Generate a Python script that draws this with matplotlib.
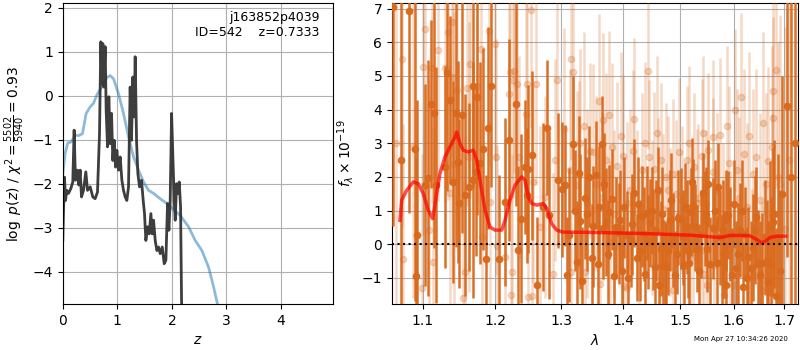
import numpy as np
import matplotlib
matplotlib.use('Agg')
import matplotlib.pyplot as plt
from matplotlib.ticker import NullLocator, NullFormatter, FixedLocator, FixedFormatter

# ---- left panel: redshift probability ----
pz_z = [0.000, 0.012, 0.031, 0.049, 0.073, 0.104, 0.147, 0.183, 0.208, 0.232,
        0.269, 0.294, 0.318, 0.343, 0.379, 0.422, 0.453, 0.502, 0.550, 0.593,
        0.636, 0.673, 0.697, 0.716, 0.734, 0.752, 0.777, 0.795, 0.820, 0.844,
        0.869, 0.893, 0.917, 0.942, 0.966, 0.991, 1.021, 1.052, 1.083, 1.113,
        1.144, 1.174, 1.205, 1.235, 1.260, 1.284, 1.309, 1.327, 1.352, 1.376,
        1.407, 1.443, 1.474, 1.498, 1.523, 1.554, 1.584, 1.615, 1.639, 1.664,
        1.694, 1.725, 1.755, 1.786, 1.823, 1.859, 1.890, 1.920, 1.945, 1.969,
        1.994, 2.018, 2.043, 2.061, 2.086, 2.110, 2.135, 2.159, 2.177, 2.196]
pz_logp = [-3.29, -2.68, -1.85, -2.38, -2.15, -2.22, -2.11, -1.96, -0.78, -1.92,
           -1.69, -2.03, -1.69, -2.30, -2.15, -1.73, -2.15, -2.07, -2.30, -2.34,
           -2.19, -0.86, 1.23, 0.28, 1.19, 0.20, 1.12, -0.33, -1.16, -0.02,
           -1.09, -0.40, -1.47, -1.01, -1.62, -1.24, -1.69, -1.39, -1.92, -2.15,
           -2.30, -2.38, -2.07, 0.20, -1.01, 0.43, -0.48, 0.89, -1.01, -1.77,
           -2.07, -1.92, -2.38, -2.68, -3.29, -2.98, -3.14, -2.68, -3.14, -2.83,
           -3.29, -3.52, -3.44, -3.59, -3.44, -3.82, -3.74, -2.45, -3.06, -2.38,
           -0.40, -1.39, -2.38, -2.83, -2.00, -2.22, -1.96, -2.53, -4.65, -5.41]

prior_z = [0.000, 0.043, 0.092, 0.153, 0.226, 0.300, 0.361, 0.428, 0.502, 0.563,
           0.624, 0.716, 0.807, 0.869, 0.930, 1.021, 1.113, 1.205, 1.297, 1.388,
           1.480, 1.572, 1.664, 1.786, 1.908, 2.031, 2.153, 2.306, 2.428, 2.550,
           2.673, 2.765, 2.838, 2.887]
prior_logp = [-1.77, -1.31, -1.07, -1.05, -0.90, -0.90, -0.86, -0.40, -0.25, -0.17,
              0.02, 0.21, 0.42, 0.46, 0.39, 0.05, -0.40, -0.93, -1.39, -1.69,
              -1.96, -2.15, -2.22, -2.34, -2.45, -2.59, -2.72, -2.98, -3.29, -3.52,
              -3.90, -4.35, -4.75, -5.11]

# ---- right panel: spectrum (dark points) ----
dark_wave = [1.0614, 1.0716, 1.0824, 1.0899, 1.0910, 1.0924, 1.1030, 1.1074, 1.1110, 1.1154,
             1.1176, 1.1299, 1.1330, 1.1367, 1.1413, 1.1450, 1.1481, 1.1495, 1.1528, 1.1574,
             1.1634, 1.1683, 1.1692, 1.1725, 1.1748, 1.1786, 1.1824, 1.1876, 1.1904, 1.1947,
             1.2063, 1.2146, 1.2204, 1.2307, 1.2341, 1.2382, 1.2442, 1.2467, 1.2492, 1.2543,
             1.2619, 1.2719, 1.2771, 1.2811, 1.2950, 1.3004, 1.3118, 1.3177, 1.3241, 1.3293,
             1.3373, 1.3438, 1.3482, 1.3500, 1.3552, 1.3606, 1.3645, 1.3672, 1.3716, 1.3771,
             1.3810, 1.3849, 1.3949, 1.4062, 1.4130, 1.4191, 1.4232, 1.4318, 1.4375, 1.4415,
             1.4462, 1.4520, 1.4549, 1.4608, 1.4650, 1.4726, 1.4873, 1.4945, 1.5007, 1.5066,
             1.5114, 1.5157, 1.5206, 1.5235, 1.5309, 1.5408, 1.5451, 1.5494, 1.5606, 1.5701,
             1.5765, 1.5847, 1.5892, 1.5957, 1.6084, 1.6117, 1.6181, 1.6279, 1.6332, 1.6476,
             1.6543, 1.6675, 1.6709, 1.6763, 1.6830, 1.6876, 1.6960, 1.7062, 1.7140, 1.7230,
             1.3055, 1.3282, 1.3937, 1.4433, 1.4625, 1.4694, 1.4743, 1.4814, 1.4963, 1.5190,
             1.5469, 1.5512, 1.5670, 1.5796, 1.5855, 1.6410, 1.3080, 1.3210, 1.3330, 1.3400,
             1.3580, 1.3690, 1.3750, 1.3880, 1.3990, 1.4010, 1.4090, 1.4160, 1.4260, 1.4290,
             1.4350, 1.4490, 1.4570, 1.4680, 1.4780, 1.4840, 1.4910, 1.5040, 1.5090, 1.5140,
             1.5270, 1.5350, 1.5380, 1.5540, 1.5640, 1.5740, 1.5810, 1.5920, 1.6000, 1.6040,
             1.6150, 1.6220, 1.6250, 1.6380, 1.6440, 1.6510, 1.6600, 1.6640, 1.6740, 1.6800,
             1.6920]
dark_flux = [7.04, 2.51, 6.94, 2.82, -0.93, 0.27, 1.75, 1.97, 4.17, 3.90,
             1.75, 2.29, 5.08, 4.29, 1.85, 3.91, 2.44, 1.21, 3.83, 1.47,
             1.70, 1.90, 4.70, 2.15, 4.37, 2.41, 2.84, -0.45, 3.46, 4.69,
             -0.45, 1.26, 3.09, 4.15, -0.18, 0.76, 2.29, 1.45, 2.24, 2.64,
             -1.20, 1.11, 3.46, 0.86, 1.90, 1.63, 0.27, 2.99, -0.53, 0.68,
             1.36, 2.00, -0.42, 0.53, 2.05, 1.11, 2.99, 0.47, 0.66, 0.96,
             1.33, -0.95, 0.71, 0.27, 0.12, 1.53, -0.40, 0.83, -0.87, 0.93,
             0.63, 0.14, -0.67, 1.60, -0.13, -0.62, 0.12, -0.28, 0.76, -0.62,
             0.51, -0.57, 1.85, 1.13, -0.13, 1.52, 0.76, -0.13, 0.47, 1.70,
             -0.52, 0.71, 0.86, -0.92, -0.28, 0.42, -1.27, -0.38, -0.72, -0.57,
             -0.57, -1.12, 0.47, 0.66, -1.53, 0.17, 1.50, 4.12, 2.00, 3.00,
             1.75, 2.12, 0.32, 0.07, -1.22, -0.65, -0.67, 0.71, 0.79, 0.96,
             0.89, 1.80, -0.55, 0.42, -1.22, 0.42, -0.90, 1.00, -1.10, 0.90,
             -0.60, 1.80, -0.30, 0.50, -0.80, 1.10, -1.00, 0.60, 1.20, -0.20,
             0.30, 1.00, 0.40, 0.90, -0.20, 1.30, -0.90, 0.20, 1.10, -0.20,
             0.50, -0.80, 0.30, -0.60, 1.00, 0.20, -0.30, 0.30, 1.20, -0.70,
             1.00, 0.30, -1.00, -0.10, 0.80, -0.90, 0.20, -0.50, -0.60, 0.90,
             -0.80]
dark_err = [6.5, 5.5, 6.0, 4.5, 3.5, 4.0, 3.0, 3.5, 2.5, 4.0,
            3.5, 3.0, 3.5, 2.5, 3.0, 4.0, 3.0, 2.5, 3.5, 3.0,
            2.5, 3.5, 3.0, 2.5, 3.5, 3.0, 3.0, 2.5, 3.0, 3.0,
            2.5, 2.5, 3.0, 3.0, 2.5, 2.5, 2.0, 2.0, 2.5, 2.5,
            2.0, 2.5, 2.0, 2.5, 2.0, 2.0, 2.0, 2.0, 1.8, 2.0,
            1.8, 1.5, 1.6, 1.8, 1.6, 1.8, 1.4, 1.5, 1.6, 1.4,
            1.5, 1.4, 1.5, 1.3, 1.4, 1.6, 1.3, 1.5, 1.2, 1.4,
            1.3, 1.5, 1.2, 1.3, 1.4, 1.3, 1.4, 1.2, 1.5, 1.3,
            1.4, 1.2, 1.3, 1.4, 1.3, 1.2, 1.4, 1.3, 1.5, 1.3,
            1.4, 1.5, 1.3, 1.4, 1.5, 1.4, 1.3, 1.5, 1.4, 1.6,
            1.5, 1.8, 2.0, 2.2, 2.0, 2.5, 3.5, 4.5, 8.0, 8.0,
            1.8, 1.7, 1.5, 1.4, 1.3, 1.4, 1.3, 1.5, 1.4, 1.3,
            1.4, 1.3, 1.4, 1.5, 1.3, 1.6, 1.7, 1.8, 1.6, 1.7,
            1.6, 1.5, 1.6, 1.5, 1.4, 1.5, 1.4, 1.5, 1.4, 1.5,
            1.4, 1.3, 1.5, 1.4, 1.3, 1.4, 1.3, 1.4, 1.3, 1.4,
            1.3, 1.4, 1.3, 1.4, 1.5, 1.4, 1.3, 1.4, 1.3, 1.4,
            1.5, 1.4, 1.5, 1.6, 1.5, 1.6, 1.7, 1.8, 2.0, 2.2,
            2.4]

# ---- right panel: spectrum (faint points) ----
light_wave = [1.0650, 1.0725, 1.0746, 1.0876, 1.0994, 1.1008, 1.1030, 1.1087, 1.1129, 1.1140,
              1.1209, 1.1299, 1.1346, 1.1367, 1.1390, 1.1413, 1.1425, 1.1459, 1.1542, 1.1574,
              1.1606, 1.1627, 1.1645, 1.1748, 1.1796, 1.1810, 1.1918, 1.1928, 1.2000, 1.2015,
              1.2025, 1.2146, 1.2209, 1.2219, 1.2229, 1.2244, 1.2258, 1.2278, 1.2317, 1.2356,
              1.2457, 1.2467, 1.2480, 1.2528, 1.2543, 1.2567, 1.2608, 1.2668, 1.2749, 1.2873,
              1.2900, 1.2926, 1.3040, 1.3134, 1.3145, 1.3150, 1.3187, 1.3250, 1.3282, 1.3362,
              1.3373, 1.3400, 1.3454, 1.3508, 1.3606, 1.3617, 1.3661, 1.3672, 1.3771, 1.3782,
              1.3810, 1.3893, 1.4004, 1.4020, 1.4062, 1.4075, 1.4118, 1.4166, 1.4191, 1.4277,
              1.4318, 1.4432, 1.4450, 1.4537, 1.4608, 1.4637, 1.4696, 1.4744, 1.4783, 1.4814,
              1.4862, 1.4873, 1.4982, 1.5025, 1.5049, 1.5114, 1.5175, 1.5224, 1.5298, 1.5327,
              1.5390, 1.5405, 1.5420, 1.5432, 1.5469, 1.5482, 1.5595, 1.5606, 1.5620, 1.5733,
              1.5796, 1.5815, 1.5911, 1.5924, 1.5988, 1.6018, 1.6104, 1.6130, 1.6195, 1.6247,
              1.6345, 1.6377, 1.6509, 1.6543, 1.6564, 1.6675, 1.6743, 1.6750, 1.6763, 1.6775,
              1.6830, 1.6876, 1.6911, 1.7006, 1.7100,
              1.3300, 1.3550, 1.3720, 1.3850, 1.3960, 1.4240, 1.4380, 1.4500, 1.4580, 1.4660,
              1.4920, 1.5150, 1.5250, 1.5500, 1.5680, 1.5860, 1.6060, 1.6290, 1.6440, 1.6620]
light_flux = [3.00, 5.51, -0.44, 2.89, -1.31, 5.26, 6.40, 0.42, 5.22, -0.52,
              5.78, 5.22, 6.30, 1.52, 6.60, 4.96, 2.39, 4.57, -1.61, -0.83,
              4.65, 2.59, 5.36, 4.69, 5.81, 0.22, 6.33, 1.26, 5.96, 2.59,
              -0.06, -0.38, 4.47, 5.11, -1.51, -0.82, 4.87, 5.13, 4.77, 2.59,
              3.88, 4.77, -1.56, 6.96, -1.54, 1.85, 4.77, 0.51, 1.40, -0.87,
              2.49, 4.87, 3.43, 2.20, -0.82, 5.51, 5.11, 1.75, 2.05, 3.50,
              -0.82, 1.21, 2.77, 2.74, 4.24, -1.17, 3.68, 1.40, 3.83, 0.07,
              2.89, 2.32, 2.62, -1.25, 1.23, -1.31, 1.62, 2.77, 3.73, -0.28,
              2.20, 5.14, 2.59, 2.23, 1.55, -1.22, 1.06, 2.00, 1.62, 0.66,
              2.10, -1.36, 2.74, 1.31, -0.67, 2.51, -0.33, -0.38, 1.21, 1.36,
              2.61, -0.18, 3.30, -0.89, 1.19, -1.22, 3.18, 2.15, -0.62, 3.23,
              0.81, -1.51, 2.41, -0.13, -1.22, 3.98, 1.37, 4.37, 2.69, 1.11,
              -0.87, 2.10, 1.31, -1.36, 3.61, 2.47, 2.89, 0.86, 4.54, 3.75,
              5.18, 2.00, 1.80, 0.44, 2.50,
              3.00, 1.80, 2.50, 0.90, 3.20, 1.00, 3.00, 0.80, 3.30, 2.50,
              1.50, 3.00, 2.30, 2.80, 1.60, 3.50, 2.20, 3.20, 2.60, 1.80]
light_err = [6.0, 5.0, 4.0, 4.5, 4.0, 5.0, 5.0, 4.5, 4.0, 4.0,
             4.5, 4.0, 5.0, 4.0, 4.0, 4.0, 4.5, 4.0, 3.5, 4.0,
             3.5, 4.0, 4.0, 3.5, 4.0, 3.5, 4.0, 3.5, 3.5, 3.5,
             3.0, 3.5, 3.5, 3.5, 3.0, 3.5, 3.5, 3.0, 3.5, 3.0,
             3.5, 3.0, 3.0, 3.5, 3.0, 3.0, 3.0, 3.0, 3.0, 3.0,
             3.0, 3.0, 3.0, 3.0, 2.8, 3.0, 2.8, 2.8, 2.8, 2.8,
             2.6, 2.8, 2.6, 2.6, 2.6, 2.5, 2.6, 2.5, 2.5, 2.4,
             2.5, 2.5, 2.4, 2.4, 2.4, 2.3, 2.4, 2.4, 2.4, 2.3,
             2.3, 2.3, 2.3, 2.3, 2.2, 2.2, 2.2, 2.2, 2.2, 2.2,
             2.2, 2.2, 2.2, 2.2, 2.2, 2.2, 2.2, 2.2, 2.2, 2.2,
             2.3, 2.2, 2.3, 2.2, 2.2, 2.2, 2.3, 2.2, 2.2, 2.3,
             2.2, 2.2, 2.3, 2.3, 2.3, 2.4, 2.4, 2.5, 2.5, 2.5,
             2.5, 2.5, 2.6, 2.6, 2.7, 2.8, 3.0, 3.0, 3.0, 3.0,
             3.5, 4.0, 5.0, 6.0, 7.0,
             2.8, 2.6, 2.6, 2.5, 2.5, 2.4, 2.4, 2.3, 2.3, 2.3,
             2.2, 2.3, 2.2, 2.3, 2.3, 2.4, 2.4, 2.5, 2.6, 2.7]

# ---- right panel: best-fit model ----
model_wave = [1.0703, 1.0725, 1.0790, 1.0876, 1.0942, 1.1008, 1.1074, 1.1133, 1.1187, 1.1232,
              1.1299, 1.1367, 1.1436, 1.1459, 1.1505, 1.1551, 1.1621, 1.1692, 1.1739, 1.1786,
              1.1857, 1.1928, 1.2000, 1.2098, 1.2146, 1.2219, 1.2293, 1.2392, 1.2442, 1.2492,
              1.2543, 1.2619, 1.2719, 1.2771, 1.2848, 1.2926, 1.3024, 1.3535, 1.4289, 1.5175,
              1.5733, 1.5924, 1.6117, 1.6312, 1.6444, 1.6544, 1.6630, 1.6709, 1.6845, 1.7030]
model_flux = [0.71, 1.31, 1.60, 1.85, 1.80, 1.50, 1.01, 0.76, 1.50, 2.11,
              2.59, 2.89, 3.18, 3.33, 2.99, 2.79, 2.74, 2.79, 2.49, 1.90,
              1.01, 0.51, 0.42, 0.42, 0.71, 1.31, 1.75, 2.00, 1.90, 1.40,
              1.21, 1.16, 1.21, 1.06, 0.61, 0.42, 0.36, 0.35, 0.32, 0.27,
              0.20, 0.26, 0.26, 0.25, 0.14, 0.04, 0.10, 0.20, 0.24, 0.24]

wave_ticks = [1.1, 1.2, 1.3, 1.4, 1.5, 1.6, 1.7]

spec_color = '#d9691c'


def main():
    fig = plt.figure(figsize=(8, 3.5), dpi=100)
    ax1 = fig.add_axes([0.0785, 0.131, 0.3375, 0.860])
    ax2 = fig.add_axes([0.490, 0.131, 0.5075, 0.860])

    # Left: p(z)
    ax1.plot(prior_z, prior_logp, color='#1f77b4', alpha=0.5, lw=2)
    ax1.plot(pz_z, pz_logp, color='0.2', alpha=0.95, lw=2)
    ax1.set_xlim(0, 4.95)
    ax1.set_ylim(-4.74, 2.11)
    ax1.set_xticks([0, 1, 2, 3, 4])
    ax1.set_yticks([-4, -3, -2, -1, 0, 1, 2])
    ax1.grid(True)
    ax1.set_xlabel('$z$')
    ax1.set_ylabel(r'$\log\ p(z)$ / $\chi^2=\frac{5502}{5940}=0.93$')
    ax1.text(0.95, 0.975, 'j163852p4039\nID=542    z=0.7333',
             transform=ax1.transAxes, ha='right', va='top', fontsize=9)

    # Right: spectrum
    ax2.errorbar(light_wave, light_flux, yerr=light_err, fmt='o', color=spec_color,
                 alpha=0.25, ms=4.5, elinewidth=1.8, capsize=0, zorder=3)
    ax2.errorbar(dark_wave, dark_flux, yerr=dark_err, fmt='o', color=spec_color,
                 alpha=0.95, ms=4.5, elinewidth=1.8, capsize=0, zorder=4)
    ax2.plot(model_wave, model_flux, color='red', alpha=0.7, lw=2.5, zorder=5)
    ax2.axhline(0, color='k', ls=':', lw=1.5, zorder=6)

    ax2.set_xscale('log')
    ax2.set_xlim(1.0601, 1.7283)
    ax2.set_ylim(-1.78, 7.16)
    ax2.xaxis.set_major_locator(FixedLocator(wave_ticks))
    ax2.xaxis.set_major_formatter(FixedFormatter(['%.1f' % w for w in wave_ticks]))
    ax2.xaxis.set_minor_locator(NullLocator())
    ax2.xaxis.set_minor_formatter(NullFormatter())
    ax2.set_yticks([-1, 0, 1, 2, 3, 4, 5, 6, 7])
    ax2.grid(True)
    ax2.set_xlabel(r'$\lambda$')
    ax2.set_ylabel(r'$f_\lambda\times10^{-19}$')

    fig.text(0.985, 0.031, 'Mon Apr 27 10:34:26 2020', ha='right', va='center', fontsize=5)

    fig.savefig('out.png', dpi=100)


if __name__ == "__main__":
    main()
